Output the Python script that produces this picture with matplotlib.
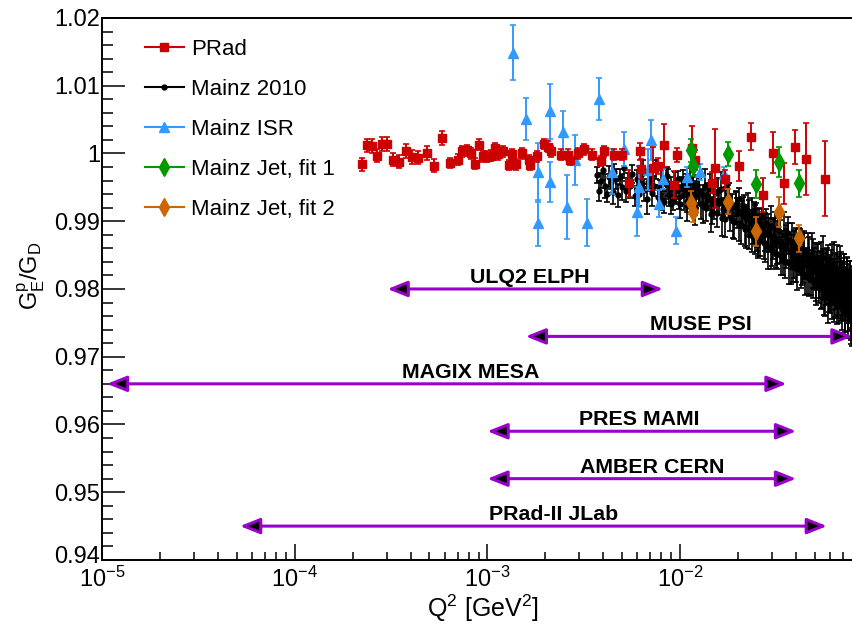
import matplotlib
matplotlib.use('Agg')
import matplotlib.pyplot as plt
from matplotlib.lines import Line2D
from matplotlib.transforms import ScaledTranslation
from matplotlib.ticker import MultipleLocator, FuncFormatter, NullFormatter, LogLocator

plt.rcParams['font.family'] = ['Liberation Sans', 'DejaVu Sans']
plt.rcParams['mathtext.fontset'] = 'custom'
plt.rcParams['mathtext.rm'] = 'Liberation Sans'
plt.rcParams['mathtext.it'] = 'Liberation Sans:italic'
plt.rcParams['mathtext.bf'] = 'Liberation Sans:bold'
plt.rcParams['mathtext.default'] = 'regular'

# PRad
prad_q2 = [2.23e-4, 2.38e-4, 2.51e-4, 2.66e-4, 2.83e-4, 3.00e-4, 3.23e-4, 3.48e-4, 3.78e-4, 4.06e-4,
           4.38e-4, 4.84e-4, 5.28e-4, 5.81e-4, 6.39e-4, 7.06e-4, 7.41e-4, 7.81e-4, 8.19e-4, 8.62e-4,
           9.08e-4, 9.45e-4, 9.92e-4, 1.04e-3, 1.10e-3, 1.14e-3, 1.21e-3, 1.29e-3, 1.34e-3, 1.41e-3,
           1.51e-3, 1.65e-3, 1.66e-3, 1.80e-3, 1.97e-3, 2.05e-3, 2.13e-3, 2.40e-3, 2.61e-3, 2.68e-3,
           2.96e-3, 3.18e-3, 3.48e-3, 3.87e-3, 4.03e-3, 4.54e-3, 5.01e-3, 5.43e-3, 6.19e-3, 6.26e-3,
           7.26e-3, 7.71e-3, 8.25e-3, 9.30e-3, 9.60e-3, 1.15e-2, 1.19e-2, 1.46e-2, 1.52e-2, 1.71e-2,
           2.02e-2, 2.33e-2, 2.68e-2, 3.02e-2, 3.46e-2, 3.95e-2, 4.50e-2, 5.65e-2]
prad_ge = [0.9984, 1.0012, 1.0011, 0.9997, 1.0014, 1.0014, 0.9991, 0.9988, 1.0004, 0.9995,
           0.9994, 1.0001, 0.9982, 1.0023, 0.9986, 0.9991, 1.0003, 1.0005, 1.0000, 0.9985,
           1.0013, 0.9996, 0.9995, 0.9997, 1.0008, 0.9999, 1.0003, 0.9983, 0.9999, 0.9984,
           1.0000, 0.9990, 0.9983, 0.9996, 1.0014, 1.0010, 1.0003, 0.9998, 0.9998, 0.9991,
           1.0000, 1.0006, 0.9998, 0.9989, 1.0003, 0.9998, 0.9998, 0.9956, 1.0003, 0.9977,
           0.9978, 0.9982, 1.0012, 0.9954, 0.9998, 1.0008, 0.9990, 0.9957, 0.9978, 0.9962,
           0.9981, 1.0025, 0.9939, 1.0001, 0.9956, 1.0010, 0.9992, 0.9963]
prad_err = [0.0010, 0.0010, 0.0010, 0.0010, 0.0010, 0.0010, 0.0010, 0.0010, 0.0010, 0.0010,
            0.0010, 0.0010, 0.0010, 0.0010, 0.0008, 0.0008, 0.0008, 0.0008, 0.0008, 0.0008,
            0.0008, 0.0008, 0.0008, 0.0008, 0.0008, 0.0008, 0.0008, 0.0008, 0.0008, 0.0008,
            0.0008, 0.0008, 0.0008, 0.0008, 0.0008, 0.0008, 0.0008, 0.0008, 0.0008, 0.0008,
            0.0008, 0.0008, 0.0008, 0.0008, 0.0008, 0.0008, 0.0008, 0.0020, 0.0012, 0.0015,
            0.0032, 0.0012, 0.0032, 0.0020, 0.0010, 0.0032, 0.0015, 0.0015, 0.0058, 0.0014,
            0.0022, 0.0020, 0.0025, 0.0030, 0.0030, 0.0025, 0.0053, 0.0055]

# Mainz ISR
isr_q2 = [1.35e-3, 1.58e-3, 1.82e-3, 1.84e-3, 2.10e-3, 2.12e-3, 2.46e-3, 2.58e-3, 2.85e-3, 3.27e-3,
          3.79e-3, 4.42e-3, 5.10e-3, 5.95e-3, 6.14e-3, 6.84e-3, 7.04e-3, 7.77e-3, 8.12e-3, 9.49e-3,
          1.09e-2, 1.27e-2, 1.68e-2]
isr_ge = [1.0149, 1.0051, 0.9972, 0.9897, 1.0062, 0.9958, 1.0032, 0.9921, 0.9990, 0.9898,
          1.0081, 0.9973, 1.0007, 0.9914, 0.9951, 0.9976, 1.0020, 0.9926, 0.9962, 0.9886,
          0.9965, 0.9973, 0.9970]
isr_err = [0.0040, 0.0031, 0.0043, 0.0034, 0.0040, 0.0030, 0.0031, 0.0047, 0.0037, 0.0035,
           0.0031, 0.0033, 0.0025, 0.0036, 0.0030, 0.0030, 0.0030, 0.0020, 0.0015, 0.0020,
           0.0015, 0.0012, 0.0010]

# Mainz jet target
jet_q2 = [1.14e-2, 1.17e-2, 1.77e-2, 2.48e-2, 3.27e-2, 4.16e-2]
jet1_ge = [1.0005, 0.9982, 0.9999, 0.9955, 0.9988, 0.9956]
jet1_err = [0.0017, 0.0015, 0.0018, 0.0021, 0.0022, 0.0020]
jet2_ge = [0.9927, 0.9914, 0.9929, 0.9885, 0.9914, 0.9875]
jet2_err = [0.0017, 0.0015, 0.0018, 0.0021, 0.0022, 0.0020]

# Mainz 2010
mainz_q2 = [3.72e-3, 3.81e-3, 3.90e-3, 3.98e-3, 4.08e-3, 4.17e-3, 4.25e-3, 4.36e-3, 4.47e-3, 4.55e-3,
            4.66e-3, 4.78e-3, 4.87e-3, 5.00e-3, 5.12e-3, 5.24e-3, 5.38e-3, 5.50e-3, 5.65e-3, 5.82e-3,
            6.00e-3, 6.10e-3, 6.25e-3, 6.40e-3, 6.52e-3, 6.70e-3, 6.85e-3, 7.00e-3, 7.15e-3, 7.30e-3,
            7.50e-3, 7.65e-3, 7.85e-3, 8.00e-3, 8.20e-3, 8.40e-3, 8.55e-3, 8.75e-3, 8.95e-3, 9.15e-3,
            9.35e-3, 9.55e-3, 9.80e-3, 1.000e-2, 1.020e-2, 1.045e-2, 1.070e-2, 1.090e-2, 1.110e-2, 1.130e-2,
            1.150e-2, 1.170e-2, 1.190e-2, 1.210e-2, 1.230e-2,
            1.25e-2, 1.28e-2, 1.31e-2, 1.34e-2, 1.37e-2, 1.40e-2, 1.43e-2, 1.46e-2, 1.49e-2, 1.52e-2,
            1.56e-2, 1.59e-2, 1.63e-2, 1.67e-2, 1.70e-2, 1.74e-2, 1.78e-2, 1.82e-2, 1.86e-2, 1.90e-2,
            1.94e-2, 1.98e-2, 2.02e-2, 2.06e-2, 2.10e-2, 2.14e-2, 2.18e-2, 2.21e-2, 2.25e-2, 2.28e-2,
            2.32e-2, 2.35e-2, 2.38e-2, 2.41e-2, 2.44e-2, 2.46e-2, 2.48e-2, 2.50e-2, 2.52e-2, 2.54e-2,
            2.56e-2, 2.60e-2, 2.64e-2, 2.68e-2, 2.72e-2, 2.76e-2, 2.80e-2, 2.85e-2, 2.90e-2, 2.95e-2,
            3.00e-2, 3.05e-2, 3.10e-2, 3.15e-2, 3.20e-2, 3.26e-2, 3.32e-2, 3.38e-2, 3.44e-2, 3.50e-2,
            3.56e-2, 3.62e-2, 3.68e-2, 3.74e-2, 3.80e-2, 3.86e-2, 3.92e-2, 3.98e-2, 4.05e-2, 4.12e-2,
            4.19e-2, 4.26e-2, 4.33e-2, 4.40e-2, 4.47e-2, 4.54e-2, 4.61e-2, 4.68e-2, 4.75e-2, 4.82e-2,
            4.88e-2, 4.94e-2, 5.00e-2, 5.06e-2, 5.12e-2,
            5.18e-2, 5.25e-2, 5.32e-2, 5.39e-2, 5.46e-2, 5.53e-2, 5.60e-2, 5.67e-2, 5.74e-2, 5.81e-2,
            5.88e-2, 5.95e-2, 6.02e-2, 6.09e-2, 6.16e-2, 6.23e-2, 6.30e-2, 6.37e-2, 6.44e-2, 6.51e-2,
            6.58e-2, 6.65e-2, 6.72e-2, 6.79e-2, 6.86e-2, 6.93e-2, 7.00e-2, 7.07e-2, 7.14e-2, 7.21e-2,
            7.28e-2, 7.35e-2, 7.42e-2, 7.49e-2, 7.56e-2, 7.63e-2, 7.70e-2, 7.76e-2, 7.82e-2, 7.88e-2,
            8.1e-3, 8.6e-3, 9.0e-3, 9.4e-3, 9.9e-3, 1.03e-2, 1.08e-2, 1.12e-2, 1.16e-2, 1.20e-2,
            1.26e-2, 1.32e-2, 1.38e-2, 1.44e-2, 1.50e-2, 1.57e-2, 1.64e-2, 1.71e-2, 1.79e-2, 1.87e-2,
            1.95e-2, 2.03e-2, 2.11e-2, 2.19e-2, 2.27e-2, 2.36e-2, 2.45e-2, 2.55e-2, 2.65e-2, 2.75e-2,
            2.86e-2, 2.97e-2, 3.08e-2, 3.19e-2, 3.30e-2, 3.41e-2, 3.53e-2, 3.65e-2, 3.77e-2, 3.89e-2,
            4.01e-2, 4.14e-2, 4.27e-2, 4.40e-2, 4.53e-2, 4.66e-2, 4.79e-2, 4.92e-2, 5.05e-2, 5.15e-2,
            5.28e-2, 5.36e-2, 5.43e-2, 5.50e-2, 5.57e-2, 5.64e-2, 5.71e-2, 5.78e-2, 5.85e-2, 5.92e-2,
            5.99e-2, 6.06e-2, 6.13e-2, 6.20e-2, 6.27e-2, 6.34e-2, 6.41e-2, 6.48e-2, 6.55e-2, 6.62e-2,
            6.69e-2, 6.76e-2, 6.83e-2, 6.90e-2, 6.97e-2, 7.04e-2, 7.11e-2, 7.18e-2, 7.25e-2, 7.32e-2,
            7.39e-2, 7.46e-2, 7.53e-2, 7.60e-2, 7.67e-2, 7.73e-2, 7.77e-2, 7.81e-2, 7.84e-2, 7.87e-2]
mainz_ge = [0.9968, 0.9945, 0.9960, 0.9975, 0.9952, 0.9940, 0.9966, 0.9958, 0.9943, 0.9972,
            0.9962, 0.9938, 0.9965, 0.9950, 0.9978, 0.9944, 0.9960, 0.9952, 0.9970, 0.9937,
            0.9962, 0.9940, 0.9955, 0.9971, 0.9946, 0.9933, 0.9958, 0.9965, 0.9941, 0.9952,
            0.9976, 0.9936, 0.9949, 0.9960, 0.9928, 0.9955, 0.9967, 0.9939, 0.9947, 0.9931,
            0.9958, 0.9944, 0.9962, 0.9925, 0.9950, 0.9938, 0.9956, 0.9930, 0.9945, 0.9963,
            0.9934, 0.9948, 0.9921, 0.9940, 0.9952,
            0.9945, 0.9925, 0.9938, 0.9952, 0.9920, 0.9933, 0.9946, 0.9915, 0.9930, 0.9941,
            0.9912, 0.9927, 0.9948, 0.9918, 0.9904, 0.9930, 0.9937, 0.9908, 0.9921, 0.9899,
            0.9925, 0.9912, 0.9933, 0.9895, 0.9910, 0.9922, 0.9888, 0.9905, 0.9915, 0.9880,
            0.9898, 0.9912, 0.9884, 0.9901, 0.9872, 0.9893, 0.9908, 0.9878, 0.9890, 0.9869,
            0.9898, 0.9875, 0.9890, 0.9906, 0.9868, 0.9884, 0.9897, 0.9862, 0.9880, 0.9893,
            0.9857, 0.9874, 0.9888, 0.9852, 0.9869, 0.9885, 0.9848, 0.9864, 0.9879, 0.9842,
            0.9860, 0.9874, 0.9838, 0.9855, 0.9870, 0.9833, 0.9851, 0.9866, 0.9829, 0.9846,
            0.9861, 0.9825, 0.9842, 0.9857, 0.9820, 0.9838, 0.9852, 0.9816, 0.9834, 0.9848,
            0.9812, 0.9830, 0.9845, 0.9808, 0.9826,
            0.9840, 0.9818, 0.9832, 0.9805, 0.9826, 0.9845, 0.9812, 0.9798, 0.9828, 0.9815,
            0.9838, 0.9802, 0.9820, 0.9794, 0.9833, 0.9810, 0.9790, 0.9822, 0.9806, 0.9830,
            0.9786, 0.9815, 0.9800, 0.9826, 0.9782, 0.9808, 0.9795, 0.9820, 0.9776, 0.9803,
            0.9790, 0.9814, 0.9770, 0.9798, 0.9785, 0.9808, 0.9765, 0.9792, 0.9780, 0.9800,
            0.9932, 0.9957, 0.9925, 0.9950, 0.9936, 0.9960, 0.9922, 0.9942, 0.9955, 0.9918,
            0.9944, 0.9922, 0.9938, 0.9910, 0.9931, 0.9945, 0.9905, 0.9926, 0.9937, 0.9900,
            0.9922, 0.9898, 0.9915, 0.9890, 0.9908, 0.9880, 0.9902, 0.9875, 0.9893, 0.9868,
            0.9885, 0.9860, 0.9878, 0.9852, 0.9870, 0.9846, 0.9866, 0.9882, 0.9840, 0.9860,
            0.9838, 0.9858, 0.9832, 0.9850, 0.9822, 0.9845, 0.9818, 0.9838, 0.9812, 0.9835,
            0.9810, 0.9835, 0.9800, 0.9822, 0.9792, 0.9818, 0.9805, 0.9828, 0.9788, 0.9812,
            0.9796, 0.9822, 0.9785, 0.9810, 0.9830, 0.9790, 0.9805, 0.9778, 0.9815, 0.9795,
            0.9782, 0.9808, 0.9825, 0.9775, 0.9800, 0.9788, 0.9815, 0.9768, 0.9795, 0.9810,
            0.9772, 0.9798, 0.9785, 0.9805, 0.9762, 0.9790, 0.9778, 0.9800, 0.9758, 0.9785]
mainz_err = [0.0012, 0.0015, 0.0011, 0.0014, 0.0017, 0.0012, 0.0016, 0.0011, 0.0018, 0.0013,
             0.0015, 0.0017, 0.0012, 0.0019, 0.0014, 0.0016, 0.0011, 0.0018, 0.0013, 0.0015,
             0.0014, 0.0018, 0.0012, 0.0020, 0.0016, 0.0022, 0.0013, 0.0017, 0.0019, 0.0015,
             0.0014, 0.0018, 0.0012, 0.0020, 0.0016, 0.0022, 0.0013, 0.0017, 0.0019, 0.0015,
             0.0014, 0.0018, 0.0012, 0.0020, 0.0016, 0.0022, 0.0013, 0.0017, 0.0019, 0.0015,
             0.0014, 0.0018, 0.0012, 0.0020, 0.0016,
             0.0018, 0.0022, 0.0015, 0.0025, 0.0020, 0.0017, 0.0023, 0.0019, 0.0026, 0.0016,
             0.0021, 0.0018, 0.0024, 0.0016, 0.0027, 0.0020, 0.0017, 0.0023, 0.0019, 0.0025,
             0.0018, 0.0022, 0.0016, 0.0028, 0.0020, 0.0017, 0.0024, 0.0019, 0.0026, 0.0021,
             0.0018, 0.0023, 0.0017, 0.0027, 0.0020, 0.0025, 0.0019, 0.0022, 0.0028, 0.0021,
             0.0022, 0.0027, 0.0020, 0.0031, 0.0024, 0.0028, 0.0021, 0.0033, 0.0025, 0.0029,
             0.0023, 0.0030, 0.0026, 0.0021, 0.0032, 0.0024, 0.0028, 0.0022, 0.0034, 0.0026,
             0.0029, 0.0023, 0.0031, 0.0025, 0.0027, 0.0022, 0.0035, 0.0024, 0.0030, 0.0026,
             0.0028, 0.0023, 0.0033, 0.0025, 0.0029, 0.0022, 0.0031, 0.0027, 0.0024, 0.0034,
             0.0026, 0.0030, 0.0023, 0.0032, 0.0028,
             0.0026, 0.0031, 0.0024, 0.0035, 0.0028, 0.0033, 0.0025, 0.0038, 0.0029, 0.0032,
             0.0027, 0.0036, 0.0030, 0.0025, 0.0034, 0.0028, 0.0039, 0.0031, 0.0026, 0.0035,
             0.0029, 0.0033, 0.0027, 0.0037, 0.0030, 0.0034, 0.0028, 0.0032, 0.0040, 0.0029,
             0.0036, 0.0031, 0.0042, 0.0030, 0.0035, 0.0033, 0.0041, 0.0032, 0.0038, 0.0034,
             0.0016, 0.0020, 0.0014, 0.0022, 0.0018, 0.0015, 0.0021, 0.0017, 0.0019, 0.0023,
             0.0020, 0.0024, 0.0018, 0.0026, 0.0021, 0.0019, 0.0027, 0.0022, 0.0020, 0.0025,
             0.0023, 0.0027, 0.0021, 0.0029, 0.0024, 0.0026, 0.0022, 0.0030, 0.0025, 0.0028,
             0.0025, 0.0030, 0.0027, 0.0023, 0.0032, 0.0026, 0.0029, 0.0024, 0.0033, 0.0027,
             0.0028, 0.0032, 0.0026, 0.0035, 0.0029, 0.0031, 0.0027, 0.0036, 0.0030, 0.0033,
             0.0030, 0.0034, 0.0028, 0.0037, 0.0031, 0.0035, 0.0029, 0.0033, 0.0038, 0.0032,
             0.0031, 0.0036, 0.0029, 0.0034, 0.0039, 0.0032, 0.0035, 0.0030, 0.0037, 0.0033,
             0.0032, 0.0038, 0.0030, 0.0035, 0.0040, 0.0033, 0.0036, 0.0041, 0.0034, 0.0037,
             0.0034, 0.0039, 0.0032, 0.0036, 0.0043, 0.0035, 0.0038, 0.0033, 0.0042, 0.0037]

# proposed experiments: name, Q2 range, level on the plot, label position
exp_names = ['ULQ2 ELPH', 'MUSE PSI', 'MAGIX MESA', 'PRES MAMI', 'AMBER CERN', 'PRad-II JLab']
exp_q2_lo = [3.03e-4, 1.58e-3, 1.06e-5, 1.0e-3, 1.0e-3, 5.2e-5]
exp_q2_hi = [8.15e-3, 7.85e-2, 3.57e-2, 4.0e-2, 4.0e-2, 5.78e-2]
exp_level = [0.980, 0.973, 0.966, 0.959, 0.952, 0.945]
exp_label_q2 = [1.66e-3, 1.28e-2, 8.2e-4, 6.17e-3, 7.13e-3, 2.2e-3]

red = '#CC0000'
blue = '#3399FF'
green = '#009900'
orange = '#CC6600'
purple = '#9900CC'

fig = plt.figure(figsize=(8.53, 6.24), dpi=100)
ax = fig.add_axes([0.1196, 0.1026, 0.8804, 0.8686])

ax.errorbar(mainz_q2, mainz_ge, yerr=mainz_err, fmt='o', color='black', ms=3.5,
            elinewidth=1.2, capsize=2, capthick=1.2, zorder=2)
ax.errorbar(isr_q2, isr_ge, yerr=isr_err, fmt='^', color=blue, ms=6.5,
            elinewidth=1.4, capsize=2, capthick=1.2, zorder=3)
ax.errorbar(prad_q2, prad_ge, yerr=prad_err, fmt='s', color=red, ms=5.5,
            elinewidth=1.4, capsize=2, capthick=1.2, zorder=4)
ax.errorbar(jet_q2, jet1_ge, yerr=jet1_err, fmt='d', color=green, ms=9,
            elinewidth=1.4, capsize=2, capthick=1.2, zorder=5)
ax.errorbar(jet_q2, jet2_ge, yerr=jet2_err, fmt='d', color=orange, ms=9,
            elinewidth=1.4, capsize=2, capthick=1.2, zorder=5)

# arrows for the proposed experiments
for name, lo, hi, lev, lx in zip(exp_names, exp_q2_lo, exp_q2_hi, exp_level, exp_label_q2):
    ax.annotate('', xy=(hi, lev), xytext=(lo, lev),
                arrowprops=dict(arrowstyle='<|-|>,head_length=0.4,head_width=0.16',
                                fc='black', ec=purple, lw=2.2, shrinkA=0, shrinkB=0,
                                mutation_scale=30), zorder=6)
    ax.text(lx, lev + 0.0017, name, ha='center', va='center', fontsize=15.4,
            fontweight='bold', zorder=7)

ax.set_xscale('log')
ax.set_xlim(1e-5, 0.0789)
ax.set_ylim(0.94, 1.02)

ax.yaxis.set_major_locator(MultipleLocator(0.01))
ax.yaxis.set_minor_locator(MultipleLocator(0.002))
ax.yaxis.set_major_formatter(FuncFormatter(lambda v, p: f'{v:g}'))
ax.xaxis.set_major_locator(LogLocator(base=10, numticks=10))
ax.xaxis.set_minor_locator(LogLocator(base=10, subs=range(2, 10), numticks=20))
ax.xaxis.set_minor_formatter(NullFormatter())

ax.tick_params(which='both', direction='in', top=False, right=False, width=1.1, labelsize=17)
ax.tick_params(axis='x', which='major', length=11.5, pad=5)
ax.tick_params(axis='x', which='minor', length=5.8)
ax.tick_params(axis='y', which='major', length=16.2, pad=1.5)
ax.tick_params(axis='y', which='minor', length=8.1)

for side in ['left', 'bottom', 'top']:
    ax.spines[side].set_linewidth(1.4)
ax.spines['right'].set_visible(False)

ax.set_xlabel(r'$Q^{2}$ [GeV$^{2}$]', fontsize=18)
ax.xaxis.set_label_coords(0.507, -0.060)
ax.set_ylabel(r'$G^{p}_{E}/G_{D}$', fontsize=17)
ax.yaxis.set_label_coords(-0.073, 0.524)

handles = [Line2D([], [], color=red, marker='s', ms=6, lw=1.5),
           Line2D([], [], color='black', marker='o', ms=3.5, lw=1.5),
           Line2D([], [], color=blue, marker='^', ms=6.5, lw=1.5),
           Line2D([], [], color=green, marker='d', ms=9, lw=1.5),
           Line2D([], [], color=orange, marker='d', ms=9, lw=1.5)]
labels = ['PRad', 'Mainz 2010', 'Mainz ISR', 'Mainz Jet, fit 1', 'Mainz Jet, fit 2']
ax.legend(handles, labels, loc='upper left', bbox_to_anchor=(0.057, 0.961), frameon=False,
          fontsize=16, handlelength=1.75, handletextpad=0.35, labelspacing=0.85,
          borderpad=0, borderaxespad=0)

# lowest y label sits a little above the corner, as in the original
fig.canvas.draw()
for tick in ax.yaxis.get_major_ticks():
    if abs(tick.get_loc() - 0.94) < 1e-6:
        tick.label1.set_transform(tick.label1.get_transform() +
                                  ScaledTranslation(0, 4 / 72, fig.dpi_scale_trans))

fig.savefig('out.png', dpi=100)
